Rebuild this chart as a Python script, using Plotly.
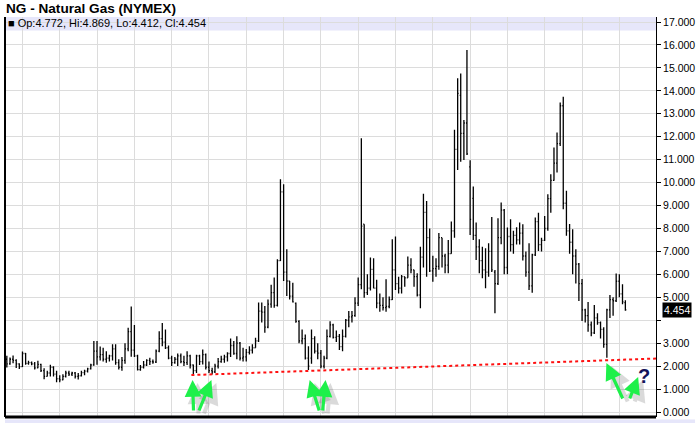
import plotly.graph_objects as go
import pandas as pd

# ---- data: monthly NYMEX natural gas bars, Aug 1993 .. Mar 2010 ----
months = pd.date_range("1993-08-01", periods=200, freq="MS").strftime("%Y-%m-%d").tolist()

opens = [
 2.30,2.10,2.30,2.25,2.10,
 1.98,2.55,2.12,2.15,2.10,1.92,2.08,1.80,1.55,1.70,1.95,1.65,
 1.45,1.40,1.55,1.70,1.65,1.70,1.55,1.58,1.72,1.78,1.88,2.05,
 2.65,2.40,2.50,2.30,2.35,2.45,2.75,2.15,1.95,2.25,2.75,3.50,
 2.70,2.45,1.85,1.95,2.05,2.25,2.20,2.18,2.65,3.20,3.05,2.80,
 2.35,2.15,2.30,2.45,2.20,2.15,2.45,2.05,1.80,2.45,2.20,2.50,
 1.95,1.80,1.75,2.00,2.20,2.30,2.40,2.55,2.90,2.55,3.00,2.35,
 2.40,2.60,2.70,2.80,3.10,4.40,4.35,3.70,4.70,5.20,4.65,6.60,
 9.60,6.10,5.71,5.05,4.75,3.95,3.10,3.20,2.35,2.35,3.20,2.65,
 2.57,2.00,2.35,3.30,3.80,3.25,3.30,2.85,3.30,4.00,4.15,4.20,
 4.75,5.55,8.19,5.20,5.40,6.22,5.40,4.75,4.65,4.55,4.60,4.90,
 6.20,5.60,5.40,5.90,5.85,6.40,6.20,5.90,5.10,6.75,8.70,7.60,
 6.15,6.25,6.35,7.60,6.80,6.40,6.90,7.90,11.45,13.80,12.15,12.60,
 10.69,9.31,7.70,7.20,6.60,6.20,6.10,7.00,6.10,5.60,7.60,8.80,
 6.30,7.65,7.30,7.70,7.50,7.80,6.80,6.10,5.50,6.85,8.30,7.30,
 7.48,8.00,9.30,10.10,10.85,11.70,13.35,9.10,7.90,7.40,6.80,6.45,
 5.60,4.45,4.20,3.80,3.45,4.10,3.90,3.60,2.95,4.45,4.90,4.85,
 5.70,5.15,4.772]

highs = [
 2.45,2.38,2.46,2.30,2.12,
 2.64,2.57,2.23,2.20,2.18,2.23,2.10,1.91,1.80,2.06,1.99,1.80,
 1.60,1.65,1.80,1.80,1.75,1.74,1.70,1.80,1.84,1.93,2.10,3.10,
 3.10,2.85,2.80,2.65,2.50,2.95,2.95,2.30,2.40,3.00,3.67,4.60,
 3.79,2.50,2.05,2.22,2.30,2.36,2.29,2.72,3.52,3.88,3.60,2.90,
 2.45,2.40,2.55,2.55,2.45,2.65,2.50,2.07,2.50,2.50,2.72,2.55,
 2.20,1.93,2.10,2.35,2.45,2.50,2.60,3.20,3.10,3.30,3.05,2.80,
 2.75,2.87,2.95,3.24,4.77,4.77,4.62,4.90,5.55,5.86,6.66,10.15,
 9.93,7.09,5.71,5.64,4.77,4.00,3.60,3.38,2.87,3.60,3.30,3.00,
 2.70,2.45,3.60,3.96,3.85,3.55,3.40,3.60,4.05,4.40,4.40,5.00,
 5.86,11.93,8.19,6.00,6.73,6.70,5.76,5.17,5.00,5.79,5.03,7.53,
 7.65,5.90,5.97,5.90,6.78,6.70,6.20,6.05,7.20,9.51,9.20,8.00,
 6.81,6.70,7.80,7.60,6.90,7.50,8.30,12.30,14.55,14.76,12.73,15.78,
 10.98,9.83,8.26,7.53,7.20,7.14,7.36,8.50,6.19,8.45,9.13,8.85,
 8.04,8.40,7.90,8.05,8.26,8.19,7.00,7.36,6.90,8.48,8.69,7.60,
 8.55,9.49,10.37,11.53,12.18,13.49,13.74,9.64,8.20,7.97,7.10,6.50,
 5.80,4.50,4.80,3.95,4.66,4.30,3.95,3.70,4.50,5.10,5.00,6.04,
 6.00,5.57,4.869]

lows = [
 1.94,2.06,2.13,1.92,1.88,
 1.96,2.06,2.06,2.04,1.85,1.91,1.74,1.43,1.55,1.55,1.55,1.30,
 1.30,1.38,1.50,1.57,1.57,1.46,1.42,1.55,1.60,1.72,1.85,2.02,
 2.06,2.25,2.20,2.15,2.20,2.25,2.06,1.85,1.80,2.10,2.65,2.41,
 2.40,1.81,1.80,1.90,2.00,2.05,2.10,2.14,2.60,2.87,2.75,2.30,
 2.00,2.10,2.00,2.12,2.00,2.05,1.90,1.62,1.70,2.05,2.07,1.85,
 1.70,1.63,1.70,1.90,2.15,2.15,2.20,2.40,2.50,2.30,2.25,2.20,
 2.20,2.51,2.55,2.80,3.05,3.90,3.46,3.65,4.55,4.55,4.60,6.58,
 5.71,5.06,4.90,4.77,3.89,3.00,2.95,2.29,1.83,2.10,2.55,2.30,
 1.91,1.90,2.30,3.25,3.20,3.05,2.70,2.65,3.25,3.70,3.90,4.15,
 4.62,5.35,4.98,5.10,5.30,5.39,4.52,4.37,4.42,4.37,4.52,4.88,
 5.32,5.17,5.17,5.46,5.85,6.05,5.46,5.03,4.52,6.30,5.90,6.10,
 5.68,5.90,6.20,6.30,6.05,6.05,6.90,7.60,10.55,10.91,10.99,11.20,
 7.72,7.50,6.63,6.05,5.83,5.40,5.90,6.10,4.30,5.54,7.31,6.00,
 6.00,7.00,6.90,7.30,7.30,6.60,5.90,5.32,5.20,6.80,7.02,7.00,
 7.45,7.90,8.69,10.08,10.44,11.60,8.84,7.68,6.90,6.00,5.60,4.84,
 3.97,3.90,3.50,3.30,3.40,3.80,3.20,2.80,2.37,4.10,4.20,4.80,
 5.00,4.70,4.412]

closes = [
 2.10,2.30,2.25,2.10,1.98,
 2.55,2.12,2.15,2.10,1.92,2.08,1.80,1.55,1.70,1.95,1.65,1.45,
 1.40,1.55,1.70,1.65,1.70,1.55,1.58,1.72,1.78,1.88,2.05,2.65,
 2.40,2.50,2.30,2.35,2.45,2.75,2.15,1.95,2.25,2.75,3.50,2.70,
 2.45,1.85,1.95,2.05,2.25,2.20,2.18,2.65,3.20,3.05,2.80,2.35,
 2.15,2.30,2.45,2.20,2.15,2.45,2.05,1.80,2.45,2.20,2.50,1.95,
 1.80,1.75,2.00,2.20,2.30,2.40,2.55,2.90,2.55,3.00,2.35,2.40,
 2.60,2.70,2.80,3.10,4.40,4.35,3.70,4.70,5.20,4.65,6.60,9.60,
 6.10,5.71,5.05,4.80,3.95,3.10,3.20,2.35,2.00,3.20,2.65,2.57,
 2.00,2.35,3.30,3.80,3.25,3.30,2.85,3.30,4.00,4.15,4.20,4.75,
 5.55,8.10,5.20,5.40,6.22,5.40,4.75,4.65,4.55,4.60,4.90,6.20,
 5.60,5.40,5.90,5.85,6.40,6.20,5.90,5.10,6.75,8.70,7.60,6.15,
 6.25,6.35,7.60,6.80,6.40,6.90,7.90,11.45,13.89,12.15,12.60,11.25,
 8.40,7.70,7.20,6.60,6.20,6.10,7.00,6.20,5.60,7.60,8.80,6.30,
 7.65,7.30,7.70,7.50,7.80,6.80,6.10,5.50,6.85,8.30,7.30,7.48,
 8.00,9.30,10.10,10.85,11.70,13.35,9.10,7.90,7.40,6.80,6.45,5.60,
 4.45,4.20,3.80,3.45,4.10,3.90,3.60,2.95,4.45,4.90,4.85,5.70,
 5.15,4.80,4.454]

y_ticks = list(range(0, 18))
y_tick_labels = ["%.3f" % v if v != 4 else "" for v in y_ticks]
last_close = closes[-1]

# support line (start month, start value, end value at right edge)
support_x = ["1998-07-13", "2010-12-26"]
support_y = [1.61, 2.33]

FONT = "Liberation Sans, Arial, sans-serif"
W, H = 700, 423
L, R, T, B = 5, 39, 17, 6
PW, PH = W - L - R, H - T - B


def px_to_paper(px, py):
    return (px - L) / PW, (H - B - py) / PH


fig = go.Figure()
fig.add_trace(go.Ohlc(
    x=months, open=opens, high=highs, low=lows, close=closes,
    increasing=dict(line=dict(color="black", width=1.3)),
    decreasing=dict(line=dict(color="black", width=1.3)),
    tickwidth=0.35, hoverinfo="skip", showlegend=False,
))

shapes = []
# header band
shapes.append(dict(type="rect", xref="paper", yref="paper", x0=0, x1=1,
                   y0=(H - B - 30.5) / PH, y1=1.0, fillcolor="#e6e6fa",
                   line=dict(width=0), layer="below"))
# lower panel band
shapes.append(dict(type="rect", xref="paper", yref="paper", x0=0, x1=1.06,
                   y0=-0.03, y1=-0.006, fillcolor="#e6e6fa",
                   line=dict(width=0), layer="below"))
# left border
shapes.append(dict(type="line", xref="paper", yref="paper", x0=0, x1=0,
                   y0=0, y1=1, line=dict(color="black", width=2)))
# bottom border
shapes.append(dict(type="line", xref="paper", yref="paper", x0=0, x1=1,
                   y0=0, y1=0, line=dict(color="black", width=3)))
# red dotted support line
shapes.append(dict(type="line", xref="x", yref="y",
                   x0=support_x[0], x1=support_x[1], y0=support_y[0], y1=support_y[1],
                   line=dict(color="#ff1010", width=2, dash="dot")))

annotations = []
annotations.append(dict(xref="paper", yref="paper", x=(4 - L) / PW, y=(H - B - 9) / PH,
                        xanchor="left", yanchor="middle", showarrow=False,
                        text="<b>NG - Natural Gas (NYMEX)</b>",
                        font=dict(family=FONT, size=13.6, color="black")))
annotations.append(dict(xref="paper", yref="paper", x=(6 - L) / PW, y=(H - B - 23.5) / PH,
                        xanchor="left", yanchor="middle", showarrow=False,
                        text="■ Op:4.772, Hi:4.869, Lo:4.412, Cl:4.454",
                        font=dict(family=FONT, size=11, color="black")))
annotations.append(dict(xref="paper", yref="y", x=(697 - L) / PW, y=last_close,
                        xanchor="right", yanchor="middle", showarrow=False,
                        text="%.3f" % last_close, bgcolor="black", borderpad=1,
                        font=dict(family=FONT, size=10.5, color="white")))

# green arrows: (tip_x, tip_y, tail_x, tail_y) in pixels
arrows = [
    (194, 380, 195, 412), (213, 380, 200, 412),
    (312, 380, 322, 412), (328, 380, 325, 412),
    (611, 363, 628, 400), (643, 377, 634, 400),
]
for shadow in (True, False):
    for tx, ty, sx, sy in arrows:
        dx, dy = (5, 3) if shadow else (0, 0)
        px, py = px_to_paper(tx + dx, ty + dy)
        annotations.append(dict(
            xref="paper", yref="paper", x=px, y=py, text="",
            showarrow=True, axref="pixel", ayref="pixel",
            ax=sx - tx, ay=sy - ty, arrowhead=2, arrowsize=1.05,
            arrowwidth=4 if shadow else 3.2,
            arrowcolor="rgba(90,90,90,0.22)" if shadow else "#1ef04a",
            standoff=0, startstandoff=0,
        ))
qx, qy = px_to_paper(649, 376)
annotations.append(dict(xref="paper", yref="paper", x=qx, y=qy, showarrow=False,
                        text="<b>?</b>", xanchor="center", yanchor="middle",
                        font=dict(family=FONT, size=20, color="#14145a")))

fig.update_layout(
    width=W, height=H,
    margin=dict(l=L, r=R, t=T, b=B, pad=0),
    paper_bgcolor="white", plot_bgcolor="white",
    showlegend=False,
    xaxis=dict(type="date", range=["1993-07-14", "2010-12-26"],
               rangeslider=dict(visible=False),
               showticklabels=False, ticks="", showgrid=True,
               gridcolor="#dcdcdc", gridwidth=1,
               dtick="M12", tick0="1994-01-01", zeroline=False,
               showline=False),
    yaxis=dict(side="right", range=[-0.218, 17.22], tickmode="array",
               tickvals=y_ticks, ticktext=y_tick_labels,
               ticks="outside", ticklen=4, tickcolor="black",
               showline=True, linecolor="black", linewidth=1,
               showgrid=True, gridcolor="#dcdcdc", gridwidth=1,
               zeroline=False,
               tickfont=dict(family=FONT, size=10.5, color="black")),
    shapes=shapes,
    annotations=annotations,
)

fig.write_html("out.html", config={"displayModeBar": False},
               post_script="document.body.style.margin='0px';document.body.style.overflow='hidden';")
